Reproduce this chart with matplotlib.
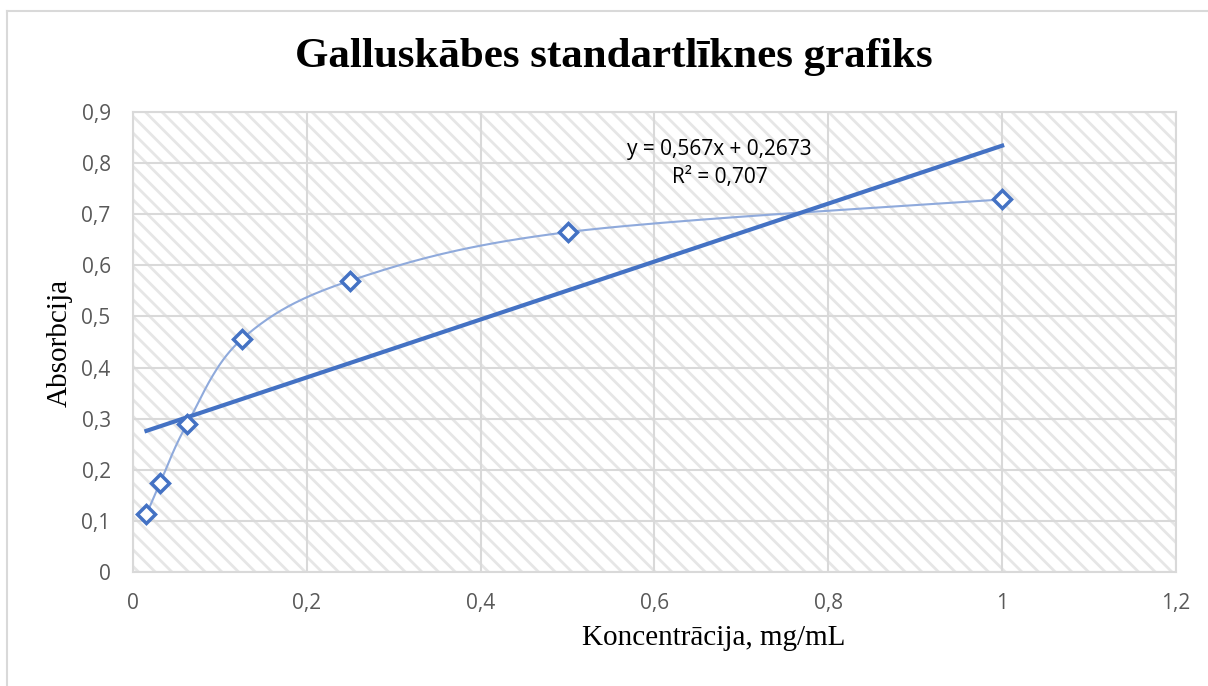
import numpy as np
import matplotlib.pyplot as plt
from matplotlib.patches import Rectangle
from matplotlib.lines import Line2D
from matplotlib.ticker import FuncFormatter

# dati (koncentrācija mg/mL, absorbcija)
konc = [0.015625, 0.03125, 0.0625, 0.125, 0.25, 0.5, 1.0]
absorb = [0.113, 0.174, 0.290, 0.455, 0.570, 0.665, 0.729]
x_ticks = [0, 0.2, 0.4, 0.6, 0.8, 1.0, 1.2]
y_ticks = [0, 0.1, 0.2, 0.3, 0.4, 0.5, 0.6, 0.7, 0.8, 0.9]

zila = '#4472C4'
gaisa = '#8FAADC'
pelek = '#D9D9D9'


def gluda_liknee(x, y, n=40):
    # Excel-veida gludināta līkne (Catmull-Rom Bezier)
    x = np.asarray(x, float)
    y = np.asarray(y, float)
    px = np.concatenate([[x[0]], x, [x[-1]]])
    py = np.concatenate([[y[0]], y, [y[-1]]])
    xs, ys = [], []
    t = np.linspace(0, 1, n)
    for i in range(1, len(px) - 2):
        p0 = np.array([px[i], py[i]])
        p3 = np.array([px[i + 1], py[i + 1]])
        p1 = p0 + (np.array([px[i + 1], py[i + 1]]) - np.array([px[i - 1], py[i - 1]])) / 6
        p2 = p3 - (np.array([px[i + 2], py[i + 2]]) - np.array([px[i], py[i]])) / 6
        b = ((1 - t) ** 3)[:, None] * p0 + (3 * (1 - t) ** 2 * t)[:, None] * p1 \
            + (3 * (1 - t) * t ** 2)[:, None] * p2 + (t ** 3)[:, None] * p3
        xs.extend(b[:, 0])
        ys.extend(b[:, 1])
    return np.array(xs), np.array(ys)


plt.rcParams['hatch.linewidth'] = 2.0
plt.rcParams['hatch.color'] = '#E6E6E6'

fig = plt.figure(figsize=(12.08, 6.86), dpi=100)
ax = fig.add_axes([0.110, 0.1662, 0.8635, 0.6705])

ax.add_patch(Rectangle((0, 0), 1, 1, transform=ax.transAxes, facecolor='white',
                       edgecolor='#E6E6E6', hatch='\\\\', lw=0, zorder=0))

ax.set_xlim(0, 1.2)
ax.set_ylim(0, 0.9)
ax.set_xticks(x_ticks)
ax.set_yticks(y_ticks)
fmt = FuncFormatter(lambda v, p: ('%g' % round(v, 2)).replace('.', ','))
ax.xaxis.set_major_formatter(fmt)
ax.yaxis.set_major_formatter(fmt)
ax.grid(True, color=pelek, lw=1.5, zorder=1)
ax.set_axisbelow(True)
for s in ax.spines.values():
    s.set_color(pelek)
    s.set_linewidth(1.5)
ax.tick_params(length=0, labelsize=15, labelcolor='#595959')
ax.tick_params(axis='x', pad=15)
ax.tick_params(axis='y', pad=16)
for lab in ax.get_xticklabels() + ax.get_yticklabels():
    lab.set_family('Open Sans')

# gludā līkne
gx, gy = gluda_liknee(konc, absorb)
ax.plot(gx, gy, color=gaisa, lw=1.5, zorder=3)

# lineārā tendences līnija
k, b0 = np.polyfit(konc, absorb, 1)
tx = np.array([min(konc), max(konc)])
ax.plot(tx, k * tx + b0, color=zila, lw=3, zorder=4)

ax.plot(konc, absorb, linestyle='none', marker='D', markersize=9,
        markerfacecolor='white', markeredgecolor=zila, markeredgewidth=2.5, zorder=5)

ax.text(0.675, 0.826, 'y = 0,567x + 0,2673', ha='center', va='center',
        fontsize=15, family='Open Sans', color='black', zorder=6)
ax.text(0.675, 0.771, 'R² = 0,707', ha='center', va='center',
        fontsize=15, family='Open Sans', color='black', zorder=6)

fig.text(714 / 1208, 1 - 638 / 686, 'Koncentrācija, mg/mL', ha='center', va='center',
         family='Liberation Serif', fontsize=21)
fig.text(60 / 1208, 1 - 343 / 686, 'Absorbcija', ha='center', va='center', rotation=90,
         family='Liberation Serif', fontsize=21)

fig.text(614 / 1208, 1 - 57 / 686, 'Galluskābes standartlīknes grafiks', ha='center', va='center',
         family='Liberation Serif', fontweight='bold', fontsize=31)

# rāmis
fig.add_artist(Line2D([0.006, 1], [0.984, 0.984], color=pelek, lw=1.5))
fig.add_artist(Line2D([0.006, 0.006], [0, 0.984], color=pelek, lw=1.5))

fig.savefig('out.png', dpi=100)
